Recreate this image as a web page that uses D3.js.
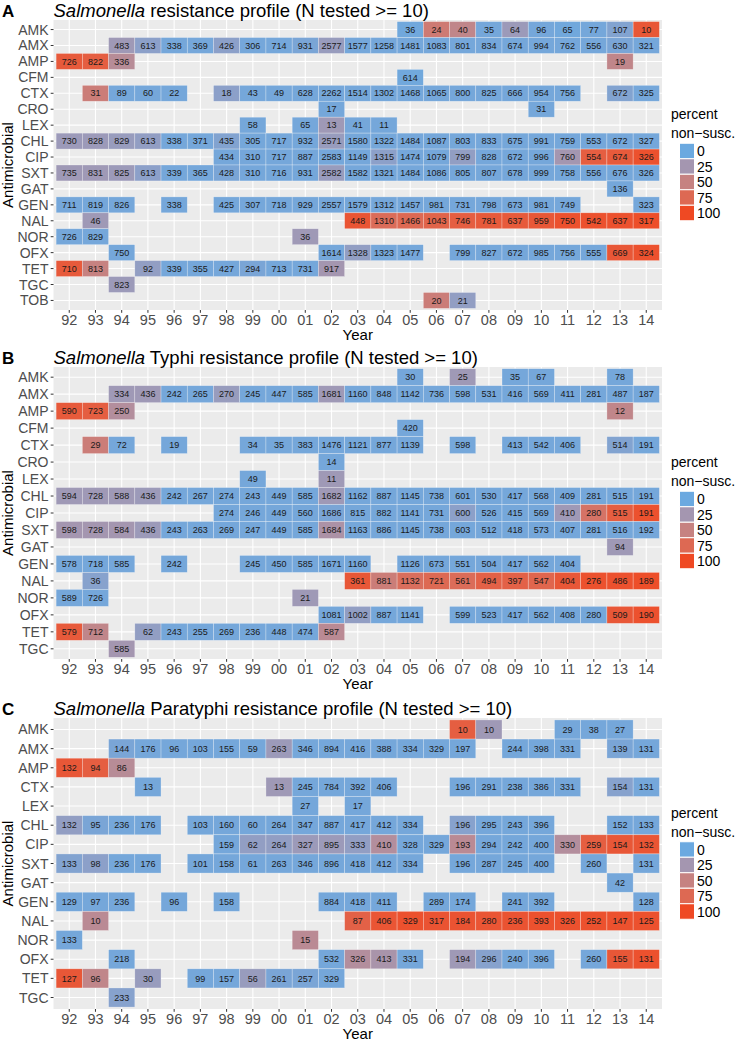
<!DOCTYPE html>
<html><head><meta charset="utf-8">
<script src="https://cdn.jsdelivr.net/npm/d3@7"></script>
<style>body{margin:0;background:#fff} text{font-family:"Liberation Sans",Arial,Helvetica,sans-serif}</style>
</head><body><svg id="c" width="745" height="1039"></svg>
<script>
const years = ["92","93","94","95","96","97","98","99","00","01","02","03","04","05","06","07","08","09","10","11","12","13","14"];
const drugsA = ["AMK","AMX","AMP","CFM","CTX","CRO","LEX","CHL","CIP","SXT","GAT","GEN","NAL","NOR","OFX","TET","TGC","TOB"];
const drugsB = ["AMK","AMX","AMP","CFM","CTX","CRO","LEX","CHL","CIP","SXT","GAT","GEN","NAL","NOR","OFX","TET","TGC"];
const drugsC = ["AMK","AMX","AMP","CTX","LEX","CHL","CIP","SXT","GAT","GEN","NAL","NOR","OFX","TET","TGC"];
const titlesItalic = ["Salmonella","Salmonella","Salmonella"];
const titlesRest = [" resistance profile (N tested >= 10)"," Typhi resistance profile (N tested >= 10)"," Paratyphi resistance profile (N tested >= 10)"];
const panelLetters = ["A","B","C"];
const legendBreaks = [0,25,50,75,100];

// [antimicrobial, year, N tested, percent non-susceptible]
const cellsA = [
["AMK","05",36,2],["AMK","06",24,58],["AMK","07",40,45],["AMK","08",35,3],["AMK","09",64,20],["AMK","10",96,3],["AMK","11",65,2],["AMK","12",77,3],["AMK","13",107,8],["AMK","14",10,90],
["AMX","94",483,22],["AMX","95",613,12],["AMX","96",338,3],["AMX","97",369,3],["AMX","98",426,12],["AMX","99",306,3],["AMX","00",714,3],["AMX","01",931,5],["AMX","02",2577,18],["AMX","03",1577,3],["AMX","04",1258,3],["AMX","05",1481,3],["AMX","06",1083,3],["AMX","07",801,3],["AMX","08",834,3],["AMX","09",674,3],["AMX","10",994,3],["AMX","11",762,3],["AMX","12",556,3],["AMX","13",630,5],["AMX","14",321,3],
["AMP","92",726,88],["AMP","93",822,85],["AMP","94",336,38],["AMP","13",19,45],
["CFM","05",614,2],
["CTX","93",31,55],["CTX","94",89,3],["CTX","95",60,3],["CTX","96",22,3],["CTX","98",18,12],["CTX","99",43,3],["CTX","00",49,3],["CTX","01",628,3],["CTX","02",2262,3],["CTX","03",1514,3],["CTX","04",1302,3],["CTX","05",1468,3],["CTX","06",1065,3],["CTX","07",800,3],["CTX","08",825,3],["CTX","09",666,3],["CTX","10",954,3],["CTX","11",756,3],["CTX","13",672,8],["CTX","14",325,3],
["CRO","02",17,3],["CRO","10",31,3],
["LEX","99",58,3],["LEX","01",65,3],["LEX","02",13,22],["LEX","03",41,3],["LEX","04",11,3],
["CHL","92",730,20],["CHL","93",828,20],["CHL","94",829,18],["CHL","95",613,15],["CHL","96",338,3],["CHL","97",371,3],["CHL","98",435,8],["CHL","99",305,3],["CHL","00",717,3],["CHL","01",932,3],["CHL","02",2571,18],["CHL","03",1580,3],["CHL","04",1322,3],["CHL","05",1484,3],["CHL","06",1087,3],["CHL","07",803,3],["CHL","08",833,3],["CHL","09",675,3],["CHL","10",991,3],["CHL","11",759,3],["CHL","12",553,3],["CHL","13",672,3],["CHL","14",327,3],
["CIP","98",434,3],["CIP","99",310,3],["CIP","00",717,3],["CIP","01",887,3],["CIP","02",2583,3],["CIP","03",1149,3],["CIP","04",1315,12],["CIP","05",1474,3],["CIP","06",1079,3],["CIP","07",799,15],["CIP","08",828,3],["CIP","09",672,3],["CIP","10",996,3],["CIP","11",760,25],["CIP","12",554,85],["CIP","13",674,88],["CIP","14",326,95],
["SXT","92",735,22],["SXT","93",831,22],["SXT","94",825,20],["SXT","95",613,12],["SXT","96",339,3],["SXT","97",365,3],["SXT","98",428,5],["SXT","99",310,3],["SXT","00",716,3],["SXT","01",931,3],["SXT","02",2582,18],["SXT","03",1582,3],["SXT","04",1321,3],["SXT","05",1484,3],["SXT","06",1086,3],["SXT","07",805,3],["SXT","08",807,3],["SXT","09",678,3],["SXT","10",999,3],["SXT","11",758,3],["SXT","12",556,3],["SXT","13",676,3],["SXT","14",326,3],
["GAT","13",136,3],
["GEN","92",711,3],["GEN","93",819,3],["GEN","94",826,3],["GEN","96",338,3],["GEN","98",425,3],["GEN","99",307,3],["GEN","00",718,3],["GEN","01",929,3],["GEN","02",2557,3],["GEN","03",1579,3],["GEN","04",1312,3],["GEN","05",1457,3],["GEN","06",981,3],["GEN","07",731,3],["GEN","08",798,3],["GEN","09",673,3],["GEN","10",981,3],["GEN","11",749,3],["GEN","14",323,3],
["NAL","93",46,22],["NAL","03",448,92],["NAL","04",1310,72],["NAL","05",1466,75],["NAL","06",1043,80],["NAL","07",746,85],["NAL","08",781,88],["NAL","09",637,88],["NAL","10",959,90],["NAL","11",750,95],["NAL","12",542,95],["NAL","13",637,95],["NAL","14",317,97],
["NOR","92",726,3],["NOR","93",829,3],["NOR","01",36,22],
["OFX","94",750,3],["OFX","02",1614,3],["OFX","03",1328,15],["OFX","04",1323,3],["OFX","05",1477,3],["OFX","07",799,3],["OFX","08",827,3],["OFX","09",672,3],["OFX","10",985,3],["OFX","11",756,3],["OFX","12",555,3],["OFX","13",669,90],["OFX","14",324,95],
["TET","92",710,88],["TET","93",813,50],["TET","95",92,15],["TET","96",339,3],["TET","97",355,3],["TET","98",427,3],["TET","99",294,5],["TET","00",713,3],["TET","01",731,3],["TET","02",917,25],
["TGC","94",823,20],
["TOB","06",20,55],["TOB","07",21,15]
];

const cellsB = [
["AMK","05",30,3],["AMK","07",25,22],["AMK","09",35,3],["AMK","10",67,3],["AMK","13",78,3],
["AMX","94",334,22],["AMX","95",436,22],["AMX","96",242,3],["AMX","97",265,3],["AMX","98",270,18],["AMX","99",245,3],["AMX","00",447,3],["AMX","01",585,3],["AMX","02",1681,22],["AMX","03",1160,3],["AMX","04",848,3],["AMX","05",1142,3],["AMX","06",736,3],["AMX","07",598,3],["AMX","08",531,3],["AMX","09",416,3],["AMX","10",569,3],["AMX","11",411,3],["AMX","12",281,3],["AMX","13",487,3],["AMX","14",187,3],
["AMP","92",590,88],["AMP","93",723,85],["AMP","94",250,35],["AMP","13",12,45],
["CFM","05",420,3],
["CTX","93",29,55],["CTX","94",72,3],["CTX","96",19,3],["CTX","99",34,3],["CTX","00",35,3],["CTX","01",383,3],["CTX","02",1476,3],["CTX","03",1121,3],["CTX","04",877,3],["CTX","05",1139,3],["CTX","07",598,3],["CTX","09",413,3],["CTX","10",542,3],["CTX","11",406,3],["CTX","13",514,8],["CTX","14",191,3],
["CRO","02",14,3],
["LEX","99",49,3],["LEX","02",11,22],
["CHL","92",594,22],["CHL","93",728,22],["CHL","94",588,22],["CHL","95",436,20],["CHL","96",242,3],["CHL","97",267,3],["CHL","98",274,3],["CHL","99",243,3],["CHL","00",449,3],["CHL","01",585,3],["CHL","02",1682,22],["CHL","03",1162,3],["CHL","04",887,3],["CHL","05",1145,3],["CHL","06",738,3],["CHL","07",601,3],["CHL","08",530,3],["CHL","09",417,3],["CHL","10",568,3],["CHL","11",409,3],["CHL","12",281,3],["CHL","13",515,3],["CHL","14",191,3],
["CIP","98",274,3],["CIP","99",246,3],["CIP","00",449,3],["CIP","01",560,3],["CIP","02",1686,5],["CIP","03",815,3],["CIP","04",882,3],["CIP","05",1141,3],["CIP","06",731,3],["CIP","07",600,12],["CIP","08",526,3],["CIP","09",415,3],["CIP","10",569,3],["CIP","11",410,22],["CIP","12",280,65],["CIP","13",515,85],["CIP","14",191,95],
["SXT","92",598,25],["SXT","93",728,25],["SXT","94",584,25],["SXT","95",436,20],["SXT","96",243,3],["SXT","97",263,3],["SXT","98",269,3],["SXT","99",247,3],["SXT","00",449,3],["SXT","01",585,3],["SXT","02",1684,30],["SXT","03",1163,3],["SXT","04",886,3],["SXT","05",1145,3],["SXT","06",738,3],["SXT","07",603,3],["SXT","08",512,3],["SXT","09",418,3],["SXT","10",573,3],["SXT","11",407,3],["SXT","12",281,3],["SXT","13",516,3],["SXT","14",192,3],
["GAT","13",94,22],
["GEN","92",578,3],["GEN","93",718,3],["GEN","94",585,3],["GEN","96",242,3],["GEN","99",245,3],["GEN","00",450,3],["GEN","01",585,3],["GEN","02",1671,3],["GEN","03",1160,3],["GEN","05",1126,3],["GEN","06",673,3],["GEN","07",551,3],["GEN","08",504,3],["GEN","09",417,3],["GEN","10",562,3],["GEN","11",404,3],
["NAL","93",36,10],["NAL","03",361,90],["NAL","04",881,55],["NAL","05",1132,70],["NAL","06",721,75],["NAL","07",561,72],["NAL","08",494,82],["NAL","09",397,82],["NAL","10",547,78],["NAL","11",404,90],["NAL","12",276,95],["NAL","13",486,95],["NAL","14",189,97],
["NOR","92",589,3],["NOR","93",726,3],["NOR","01",21,22],
["OFX","02",1081,3],["OFX","03",1002,15],["OFX","04",887,3],["OFX","05",1141,3],["OFX","07",599,3],["OFX","08",523,3],["OFX","09",417,3],["OFX","10",562,3],["OFX","11",408,3],["OFX","12",280,3],["OFX","13",509,90],["OFX","14",190,95],
["TET","92",579,88],["TET","93",712,45],["TET","95",62,15],["TET","96",243,3],["TET","97",255,3],["TET","98",269,3],["TET","99",236,3],["TET","00",448,3],["TET","01",474,3],["TET","02",587,40],
["TGC","94",585,25]
];

const cellsC = [
["AMK","07",10,85],["AMK","08",10,22],["AMK","11",29,3],["AMK","12",38,3],["AMK","13",27,3],
["AMX","94",144,5],["AMX","95",176,3],["AMX","96",96,3],["AMX","97",103,3],["AMX","98",155,3],["AMX","99",59,3],["AMX","00",263,20],["AMX","01",346,3],["AMX","02",894,3],["AMX","03",416,3],["AMX","04",388,3],["AMX","05",334,3],["AMX","06",329,3],["AMX","07",197,3],["AMX","09",244,3],["AMX","10",398,3],["AMX","11",331,3],["AMX","13",139,5],["AMX","14",131,3],
["AMP","92",132,90],["AMP","93",94,85],["AMP","94",86,38],
["CTX","95",13,3],["CTX","00",13,22],["CTX","01",245,3],["CTX","02",784,3],["CTX","03",392,3],["CTX","04",406,3],["CTX","07",196,3],["CTX","08",291,3],["CTX","09",238,3],["CTX","10",386,3],["CTX","11",331,3],["CTX","13",154,10],["CTX","14",131,3],
["LEX","01",27,3],["LEX","03",17,3],
["CHL","92",132,15],["CHL","93",95,5],["CHL","94",236,3],["CHL","95",176,3],["CHL","97",103,3],["CHL","98",160,3],["CHL","99",60,3],["CHL","00",264,3],["CHL","01",347,3],["CHL","02",887,3],["CHL","03",417,3],["CHL","04",412,3],["CHL","05",334,3],["CHL","07",196,10],["CHL","08",295,3],["CHL","09",243,3],["CHL","10",396,3],["CHL","13",152,3],["CHL","14",133,3],
["CIP","98",159,3],["CIP","99",62,15],["CIP","00",264,15],["CIP","01",327,20],["CIP","02",895,20],["CIP","03",333,15],["CIP","04",410,35],["CIP","05",328,3],["CIP","06",329,3],["CIP","07",193,40],["CIP","08",294,3],["CIP","09",242,3],["CIP","10",400,3],["CIP","11",330,35],["CIP","12",259,85],["CIP","13",154,90],["CIP","14",132,92],
["SXT","92",133,8],["SXT","93",98,12],["SXT","94",236,3],["SXT","95",176,3],["SXT","97",101,3],["SXT","98",158,3],["SXT","99",61,3],["SXT","00",263,3],["SXT","01",346,3],["SXT","02",896,3],["SXT","03",418,3],["SXT","04",412,3],["SXT","05",334,3],["SXT","07",196,3],["SXT","08",287,3],["SXT","09",245,3],["SXT","10",400,3],["SXT","12",260,3],["SXT","14",131,3],
["GAT","13",42,3],
["GEN","92",129,3],["GEN","93",97,3],["GEN","94",236,3],["GEN","96",96,3],["GEN","98",158,3],["GEN","02",884,3],["GEN","03",418,3],["GEN","04",411,3],["GEN","06",289,3],["GEN","07",174,3],["GEN","09",241,3],["GEN","10",392,3],["GEN","14",128,3],
["NAL","93",10,40],["NAL","03",87,82],["NAL","04",406,92],["NAL","05",329,95],["NAL","06",317,93],["NAL","07",184,93],["NAL","08",280,92],["NAL","09",236,93],["NAL","10",393,95],["NAL","11",326,95],["NAL","12",252,95],["NAL","13",147,95],["NAL","14",125,95],
["NOR","92",133,3],["NOR","01",15,40],
["OFX","94",218,3],["OFX","02",532,3],["OFX","03",326,35],["OFX","04",413,28],["OFX","05",331,3],["OFX","07",194,22],["OFX","08",296,10],["OFX","09",240,3],["OFX","10",396,3],["OFX","12",260,3],["OFX","13",155,90],["OFX","14",131,95],
["TET","92",127,90],["TET","93",96,45],["TET","95",30,18],["TET","97",99,3],["TET","98",157,3],["TET","99",56,18],["TET","00",261,5],["TET","01",257,5],["TET","02",329,3],
["TGC","94",233,10]
];

const panels = [
  {drugs: drugsA, cells: cellsA, top: 20, bottom: 310},
  {drugs: drugsB, cells: cellsB, top: 367, bottom: 659},
  {drugs: drugsC, cells: cellsC, top: 718, bottom: 1009}
];
const X0 = 53.5, X1 = 662;

const color = d3.scaleLinear().domain([0,100]).range(["#6BA9E0","#EF4923"]).interpolate(d3.interpolateLab);
const svg = d3.select("#c");
svg.append("rect").attr("width",745).attr("height",1039).attr("fill","#fff");

panels.forEach((p, i) => {
  const g = svg.append("g");
  const x = d3.scalePoint().domain(years).range([X0, X1]).padding(0.6);
  const y = d3.scalePoint().domain(p.drugs).range([p.top, p.bottom]).padding(0.6);
  const sx = x.step(), sy = y.step();
  g.append("rect").attr("x",X0).attr("y",p.top).attr("width",X1-X0).attr("height",p.bottom-p.top).attr("fill","#EBEBEB");
  g.selectAll(".vg").data(years).join("line").attr("x1",d=>x(d)).attr("x2",d=>x(d)).attr("y1",p.top).attr("y2",p.bottom).attr("stroke","#fff").attr("stroke-width",1.1);
  g.selectAll(".hg").data(p.drugs).join("line").attr("y1",d=>y(d)).attr("y2",d=>y(d)).attr("x1",X0).attr("x2",X1).attr("stroke","#fff").attr("stroke-width",1.1);
  g.selectAll(".tile").data(p.cells).join("rect")
    .attr("x",d=>x(d[1])-sx/2).attr("y",d=>y(d[0])-sy/2).attr("width",sx).attr("height",sy)
    .attr("fill",d=>color(d[3])).attr("stroke","#fff").attr("stroke-opacity",0.45).attr("stroke-width",0.6);
  g.selectAll(".lab").data(p.cells).join("text")
    .attr("x",d=>x(d[1])).attr("y",d=>y(d[0])+3.2).attr("text-anchor","middle")
    .attr("font-size","9px").attr("fill","#1a1a1a").text(d=>d[2]);
  const ya = g.append("g");
  p.drugs.forEach(d => {
    ya.append("line").attr("x1",X0-2.8).attr("x2",X0).attr("y1",y(d)).attr("y2",y(d)).attr("stroke","#333").attr("stroke-width",1);
    ya.append("text").attr("x",X0-5).attr("y",y(d)+5).attr("text-anchor","end").attr("font-size","14px").attr("fill","#4D4D4D").text(d);
  });
  const xa = g.append("g");
  years.forEach(d => {
    xa.append("line").attr("x1",x(d)).attr("x2",x(d)).attr("y1",p.bottom).attr("y2",p.bottom+2.8).attr("stroke","#333").attr("stroke-width",1);
    xa.append("text").attr("x",x(d)).attr("y",p.bottom+15).attr("text-anchor","middle").attr("font-size","14.5px").attr("fill","#4D4D4D").text(d);
  });
  g.append("text").attr("x",(X0+X1)/2).attr("y",p.bottom+30).attr("text-anchor","middle").attr("font-size","15px").attr("fill","#000").text("Year");
  const mid = (p.top+p.bottom)/2;
  g.append("text").attr("transform",`translate(13,${mid}) rotate(-90)`).attr("text-anchor","middle").attr("font-size","15px").attr("fill","#000").text("Antimicrobial");
  const t = g.append("text").attr("x",X0).attr("y",p.top-3).attr("font-size","18.5px").attr("fill","#000");
  t.append("tspan").attr("font-style","italic").text(titlesItalic[i]);
  t.append("tspan").text(titlesRest[i]);
  g.append("text").attr("x",2).attr("y",p.top-3).attr("font-size","17px").attr("font-weight","bold").text(panelLetters[i]);
  const lg = g.append("g");
  lg.append("text").attr("x",671).attr("y",mid-46).attr("font-size","14px").text("percent");
  lg.append("text").attr("x",671).attr("y",mid-27).attr("font-size","14px").text("non\u2212susc.");
  legendBreaks.forEach((b, k) => {
    const cy = mid - 14 + k*15.5;
    lg.append("rect").attr("x",679.5).attr("y",cy-7.75).attr("width",15).attr("height",15.5).attr("fill",color(b)).attr("stroke","#fff").attr("stroke-width",1);
    lg.append("text").attr("x",697).attr("y",cy+5).attr("font-size","14px").text(b);
  });
});
</script></body></html>
